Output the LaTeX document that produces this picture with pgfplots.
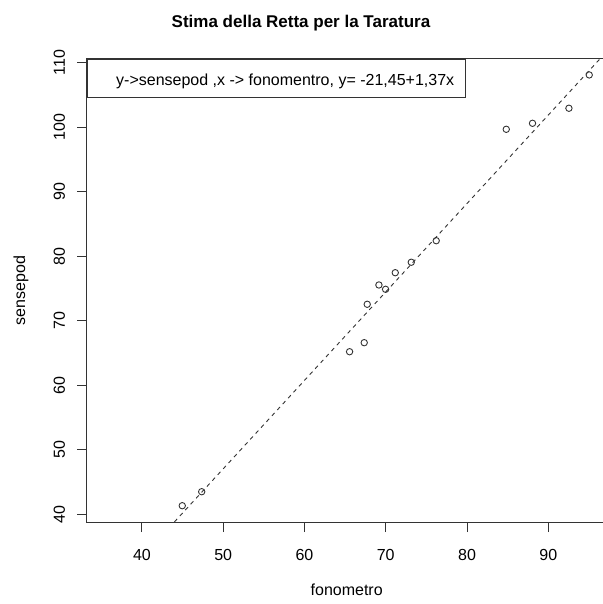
\documentclass[border=0pt]{standalone}
\usepackage{fontspec}
\setmainfont{Liberation Sans}
\usepackage{pgfplots}
\pgfplotsset{compat=1.18}

\begin{document}
\begin{tikzpicture}
\begin{axis}[
  at={(86.7bp,81.5bp)}, anchor=south west,
  scale only axis, width=520bp, height=463.5bp,
  xmin=33.2, xmax=97.19, ymin=38.73, ymax=110.54,
  xtick={40,50,...,90}, ytick={40,50,...,110},
  tick align=outside, major tick length=9.6bp,
  xtick pos=left, ytick pos=left,
  axis line style={black!80, line width=1bp},
  every tick/.style={black!80, line width=1bp},
  font=\fontsize{16bp}{19bp}\selectfont,
  /pgf/number format/assume math mode=true,
  xticklabel style={anchor=base, inner sep=0pt, yshift=-27.9bp},
  yticklabel style={xshift=-12.1bp, rotate=90, anchor=base, inner sep=0pt},
  xlabel={fonometro}, ylabel={sensepod},
  every axis x label/.style={at={(axis description cs:0.5,0)}, anchor=base, yshift=-72.5bp, inner sep=0pt},
  every axis y label/.style={at={(axis description cs:0,0.5)}, xshift=-61.5bp, rotate=90, anchor=base, inner sep=0pt},
  title={Stima della Retta per la Taratura},
  title style={at={(axis description cs:0.4121,1.0555)}, anchor=base, inner sep=0pt, font=\fontsize{17bp}{20bp}\selectfont\bfseries},
]
% regression line y = -21.45 + 1.37 x
\addplot[black!80, line width=0.9bp, dash pattern=on 4bp off 4bp]
  coordinates {(40,33.35) (100,115.55)};
% measured pairs
\addplot[only marks, mark=o, mark size=3.2bp, black!80, mark options={line width=0.9bp}]
  table {
x      y
44.96  41.33
47.35  43.50
65.55  65.19
67.35  66.59
67.72  72.54
69.16  75.53
69.98  74.86
71.17  77.43
73.14  79.05
76.21  82.39
84.83  99.65
88.06  100.58
92.54  102.91
95.04  108.07
};
% legend box in the top-left corner
\node[draw=black!80, line width=1bp, inner sep=0pt, anchor=north west,
      font=\fontsize{16bp}{19bp}\selectfont]
  at (rel axis cs:0,1)
  {\makebox[378bp][l]{\hspace*{29bp}\rule[-12.3bp]{0pt}{38.3bp}y->sensepod ,x -> fonomentro, y= -21,45+1,37x}};
\end{axis}
\pgfresetboundingbox
\path[use as bounding box] (0,0) rectangle (603bp,604bp);
\end{tikzpicture}
\end{document}
